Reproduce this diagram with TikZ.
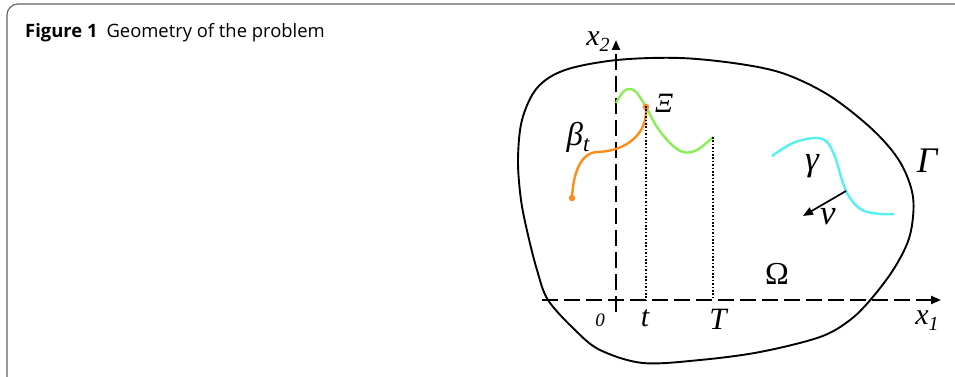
\documentclass[tikz,border=0pt]{standalone}
\usepackage{fontspec}
\setmainfont{Open Sans}
\newfontfamily\tms{Liberation Serif}
\usetikzlibrary{arrows.meta}
\definecolor{bgreen}{HTML}{88EE55}
\definecolor{borange}{HTML}{FF8C1A}
\definecolor{bcyan}{HTML}{55F0F0}
\definecolor{framegray}{HTML}{666666}
\newcommand{\lfs}[1]{\fontsize{#1}{#1}\selectfont}
\begin{document}
\begin{tikzpicture}[x=1pt,y=-1pt,
  axisline/.style={line width=2.1pt, dash pattern=on 16pt off 6pt, -{Triangle[length=10pt,width=8pt]}},
  guide/.style={line width=1.1pt, dash pattern=on 1.6pt off 1.8pt},
  bound/.style={line width=1.9pt},
  curv/.style={line width=2.4pt},
  lbl/.style={inner sep=0pt, font=\tms\itshape},
  dotb/.style={circle, fill=borange, inner sep=0pt, minimum size=6.5pt}]
\useasboundingbox (0,0) rectangle (955,377);
% frame
\draw[framegray, line width=1.2pt, rounded corners=11pt] (955,4) -| (7,378);
\node[anchor=base west, inner sep=0pt] (cap) at (25,38)
  {\lfs{18.4}\textbf{Figure 1}\hspace{9pt}Geometry of the problem};
% boundary Gamma
\draw[bound] plot[smooth cycle, tension=0.55] coordinates {
 (617,60) (680,58) (740,64) (785,74) (830,96) (873,130) (900,162) (913,197)
 (910,235) (895,267) (872,298) (850,320) (820,337) (760,352) (700,360) (643,363)
 (600,350) (575,330) (548,300) (537,270) (528,235) (521,200) (518,160) (522,120)
 (537,88) (565,70)};
% axes
\coordinate (o) at (616,300);
\coordinate (x1s) at (542,300);
\coordinate (x1e) at (941,300);
\coordinate (x2s) at (616,312);
\coordinate (x2e) at (616,40);
\draw[axisline] (x1s) -- (x1e);
\draw[axisline] (x2s) -- (x2e);
% green curve
\draw[curv, bgreen] plot[smooth, tension=0.6] coordinates {
 (616,103) (623,92) (630,89) (637,93) (646,107) (657,127) (670,143) (683,152) (697,150) (713,137)};
% orange curve
\draw[curv, borange] (572,198) .. controls (573,175) and (580,152) .. (598,152)
  .. controls (625,151) and (648,135) .. (646,107);
\node[dotb] (bstart) at (572,198) {};
\node[dotb] (xip) at (646,107) {};
\coordinate (xic) at (646,106);
\coordinate (gend) at (713,137);
% dotted guides
\draw[guide] (xic) -- (xic |- o);
\draw[guide] (gend) -- (gend |- o);
% cyan curve
\draw[curv, bcyan] plot[smooth, tension=0.6] coordinates {
 (772,156) (793,143) (815,138) (827,142) (835,157) (843,183) (850,198) (862,210) (880,214) (894,214)};
\coordinate (nus) at (846,191);
\coordinate (nue) at (803,216);
\draw[line width=1.7pt, -{Triangle[length=10pt,width=8pt]}] (nus) -- (nue);
% labels
\node[lbl] (lx2) at (598,42) {\lfs{30}x\raisebox{-6pt}{\lfs{20}2}};
\node[lbl] (lx1) at (927,321) {\lfs{30}x\raisebox{-6pt}{\lfs{20}1}};
\node[lbl] (l0) at (600,320) {\lfs{19}0};
\node[lbl] (lt) at (645,318) {\lfs{30}t};
\node[lbl] (lT) at (718,319) {\lfs{31}T};
\node[inner sep=0pt, font=\tms] (lOm) at (777,274) {\lfs{32}Ω};
\node[lbl] (lGa) at (927,161) {\lfs{36}Γ};
\node[lbl] (lga) at (812,166) {\lfs{35}γ};
\node[lbl] (lnu) at (828,217) {\lfs{35}ν};
\node[lbl] (lbeta) at (578,137) {\lfs{33}β\raisebox{-6pt}{\lfs{23}t}};
\node[lbl] (lXi) at (664,103) {\lfs{28}Ξ};
\end{tikzpicture}
\end{document}
